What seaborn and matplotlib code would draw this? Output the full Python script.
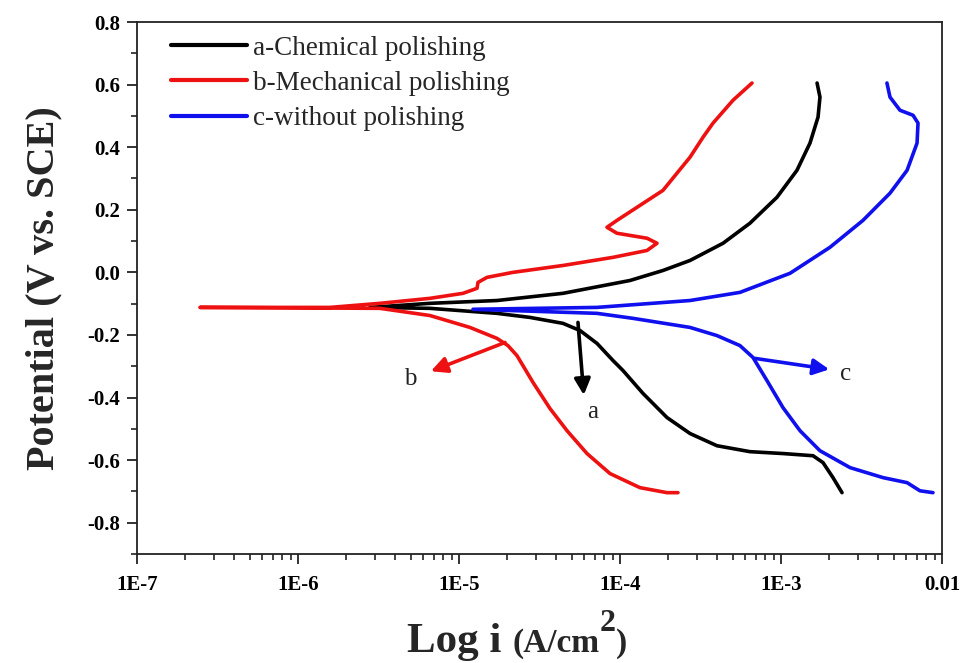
import numpy as np
import pandas as pd
import matplotlib
matplotlib.use("Agg")
import matplotlib.pyplot as plt
import seaborn as sns
from matplotlib.ticker import LogLocator, FixedLocator, MultipleLocator, FixedFormatter, NullFormatter

# ---------------- data (log10 of current density, potential in V) ----------------
labels = ["a-Chemical polishing", "b-Mechanical polishing", "c-without polishing"]
colors = ["#000000", "#ee1111", "#1010ee"]

# a - chemical polishing
a_anod_logi = [-5.553, -5.180, -4.764, -4.354, -3.938, -3.733, -3.565, -3.360, -3.193, -3.025,
               -2.901, -2.820, -2.770, -2.758, -2.776]
a_anod_E = [-0.112, -0.099, -0.090, -0.067, -0.026, 0.006, 0.038, 0.093, 0.157, 0.240,
            0.326, 0.413, 0.496, 0.560, 0.605]
a_cath_logi = [-5.553, -5.180, -4.764, -4.559, -4.354, -4.248, -4.143, -4.043, -3.981, -3.857,
               -3.708, -3.565, -3.398, -3.193, -2.988, -2.801, -2.739, -2.677, -2.621]
a_cath_E = [-0.112, -0.115, -0.131, -0.144, -0.163, -0.186, -0.227, -0.282, -0.314, -0.387,
            -0.464, -0.515, -0.554, -0.573, -0.579, -0.586, -0.608, -0.656, -0.704]

# b - mechanical polishing
b_anod_logi = [-6.609, -5.801, -5.491, -5.180, -4.975, -4.888, -4.882, -4.826, -4.665, -4.354,
               -4.043, -3.832, -3.770, -3.832, -4.019, -4.081, -4.019, -3.876, -3.733, -3.646,
               -3.565, -3.484, -3.422, -3.298, -3.180]
b_anod_E = [-0.112, -0.112, -0.099, -0.083, -0.067, -0.051, -0.032, -0.016, 0.000, 0.022,
            0.048, 0.070, 0.093, 0.109, 0.125, 0.144, 0.166, 0.214, 0.262, 0.317,
            0.368, 0.432, 0.477, 0.550, 0.605]
b_cath_logi = [-6.609, -5.491, -5.180, -4.932, -4.764, -4.696, -4.640, -4.540, -4.435, -4.329,
               -4.205, -4.062, -3.876, -3.708, -3.640]
b_cath_E = [-0.112, -0.115, -0.138, -0.176, -0.211, -0.234, -0.266, -0.352, -0.435, -0.506,
            -0.579, -0.643, -0.688, -0.704, -0.704]

# c - without polishing
c_anod_logi = [-4.913, -4.143, -3.565, -3.255, -2.944, -2.696, -2.491, -2.323, -2.217, -2.155,
               -2.149, -2.180, -2.261, -2.323, -2.342]
c_anod_E = [-0.118, -0.112, -0.090, -0.064, -0.003, 0.080, 0.166, 0.253, 0.326, 0.413,
            0.477, 0.502, 0.518, 0.560, 0.605]
c_cath_logi = [-4.913, -4.143, -3.919, -3.565, -3.398, -3.255, -3.174, -3.087, -2.988, -2.882,
               -2.758, -2.571, -2.366, -2.217, -2.137, -2.056]
c_cath_E = [-0.118, -0.131, -0.147, -0.176, -0.202, -0.234, -0.272, -0.346, -0.432, -0.506,
            -0.570, -0.624, -0.656, -0.672, -0.698, -0.704]

# annotation arrows: (tail logi, tail E, head logi, head E, text logi, text E, letter)
arrow_a = (-4.261, -0.160, -4.225, -0.392, -4.168, -0.445, "a")
arrow_b = (-4.714, -0.224, -5.175, -0.316, -5.304, -0.340, "b")
arrow_c = (-3.161, -0.275, -2.700, -0.310, -2.602, -0.326, "c")

xtick_vals = [1e-7, 1e-6, 1e-5, 1e-4, 1e-3, 1e-2]
xtick_labels = ["1E-7", "1E-6", "1E-5", "1E-4", "1E-3", "0.01"]
ytick_vals = [-0.8, -0.6, -0.4, -0.2, 0.0, 0.2, 0.4, 0.6, 0.8]

# ---------------- build long-form table ----------------
rows = []
curves = [(a_anod_logi, a_anod_E, a_cath_logi, a_cath_E),
          (b_anod_logi, b_anod_E, b_cath_logi, b_cath_E),
          (c_anod_logi, c_anod_E, c_cath_logi, c_cath_E)]
for lab, (al, ae, cl, ce) in zip(labels, curves):
    li = list(cl[::-1]) + list(al[1:])
    ee = list(ce[::-1]) + list(ae[1:])
    for k, (l, e) in enumerate(zip(li, ee)):
        rows.append({"sample": lab, "order": k, "i": 10.0 ** l, "E": e})
df = pd.DataFrame(rows)

# ---------------- style ----------------
sns.set_theme(style="ticks")
plt.rcParams["font.family"] = ["Liberation Serif", "DejaVu Serif"]

fig = plt.figure(figsize=(9.66, 6.63), dpi=100)
ax = fig.add_axes([137 / 966, 1 - 554 / 663, (942 - 137) / 966, (554 - 22) / 663])

sns.lineplot(data=df, x="i", y="E", hue="sample", palette=dict(zip(labels, colors)),
             sort=False, estimator=None, units="sample", lw=2.6, ax=ax, legend=True)
for ln in ax.get_lines():
    ln.set_solid_joinstyle("round")
    ln.set_solid_capstyle("round")

ax.set_xscale("log")
ax.set_xlim(1e-7, 1e-2)
ax.set_ylim(-0.9, 0.8)

ax.xaxis.set_major_locator(FixedLocator(xtick_vals))
ax.xaxis.set_major_formatter(FixedFormatter(xtick_labels))
ax.xaxis.set_minor_locator(LogLocator(base=10, subs=np.arange(2, 10)))
ax.xaxis.set_minor_formatter(NullFormatter())
ax.yaxis.set_major_locator(FixedLocator(ytick_vals))
ax.yaxis.set_minor_locator(MultipleLocator(0.1))
ax.set_yticklabels([f"{v:.1f}" for v in ytick_vals])

ax.tick_params(which="major", direction="out", length=7, width=1.3, labelsize=15,
               top=False, right=False, colors="#222222", labelcolor="black")
ax.tick_params(which="minor", direction="out", length=4.5, width=1.2, top=False, right=False,
               colors="#222222")
ax.tick_params(axis="x", pad=8)
ax.tick_params(axis="y", pad=5)
for t in ax.get_xticklabels() + ax.get_yticklabels():
    t.set_fontweight("bold")
for s in ax.spines.values():
    s.set_linewidth(1.3)
    s.set_color("#222222")
    s.set_visible(True)

ax.set_xlabel("")
ax.set_ylabel("Potential (V vs. SCE)", fontsize=29, fontweight="bold", labelpad=18)

# x label built from pieces: big "Log i", smaller "(A/cm", raised "2", ")"
W, H = 966.0, 663.0
base_y = 1 - 652 / H
fig.text(407 / W, base_y, "Log i", fontsize=31, fontweight="bold", va="baseline", ha="left")
renderer = fig.canvas.get_renderer()
t1 = fig.text(512 / W, base_y, "(A/cm", fontsize=24, fontweight="bold", va="baseline", ha="left")
x_end = t1.get_window_extent(renderer).x1
t2 = fig.text(x_end / W + 0.001, 1 - 631 / H, "2", fontsize=23, fontweight="bold",
              va="baseline", ha="left")
x_end2 = t2.get_window_extent(renderer).x1
fig.text(x_end2 / W, base_y, ")", fontsize=24, fontweight="bold", va="baseline", ha="left")

leg = ax.legend(loc="upper left", bbox_to_anchor=(0.025, 1.0), frameon=False, fontsize=19.5,
                handlelength=2.8, handletextpad=0.25, labelspacing=0.38, borderaxespad=0.1)
for h in leg.get_lines():
    h.set_linewidth(3.0)

for (tx, ty, hx, hy, lx, ly, letter), col in zip([arrow_a, arrow_b, arrow_c],
                                                  ["#000000", "#ee1111", "#1010ee"]):
    ax.annotate("", xy=(10 ** hx, hy), xytext=(10 ** tx, ty),
                arrowprops=dict(arrowstyle="-|>,head_length=0.8,head_width=0.4", color=col,
                                lw=2.6, shrinkA=0, shrinkB=0))
    ax.text(10 ** lx, ly, letter, fontsize=18, ha="center", va="center", color="#222222")

fig.savefig("out.png", dpi=100)
